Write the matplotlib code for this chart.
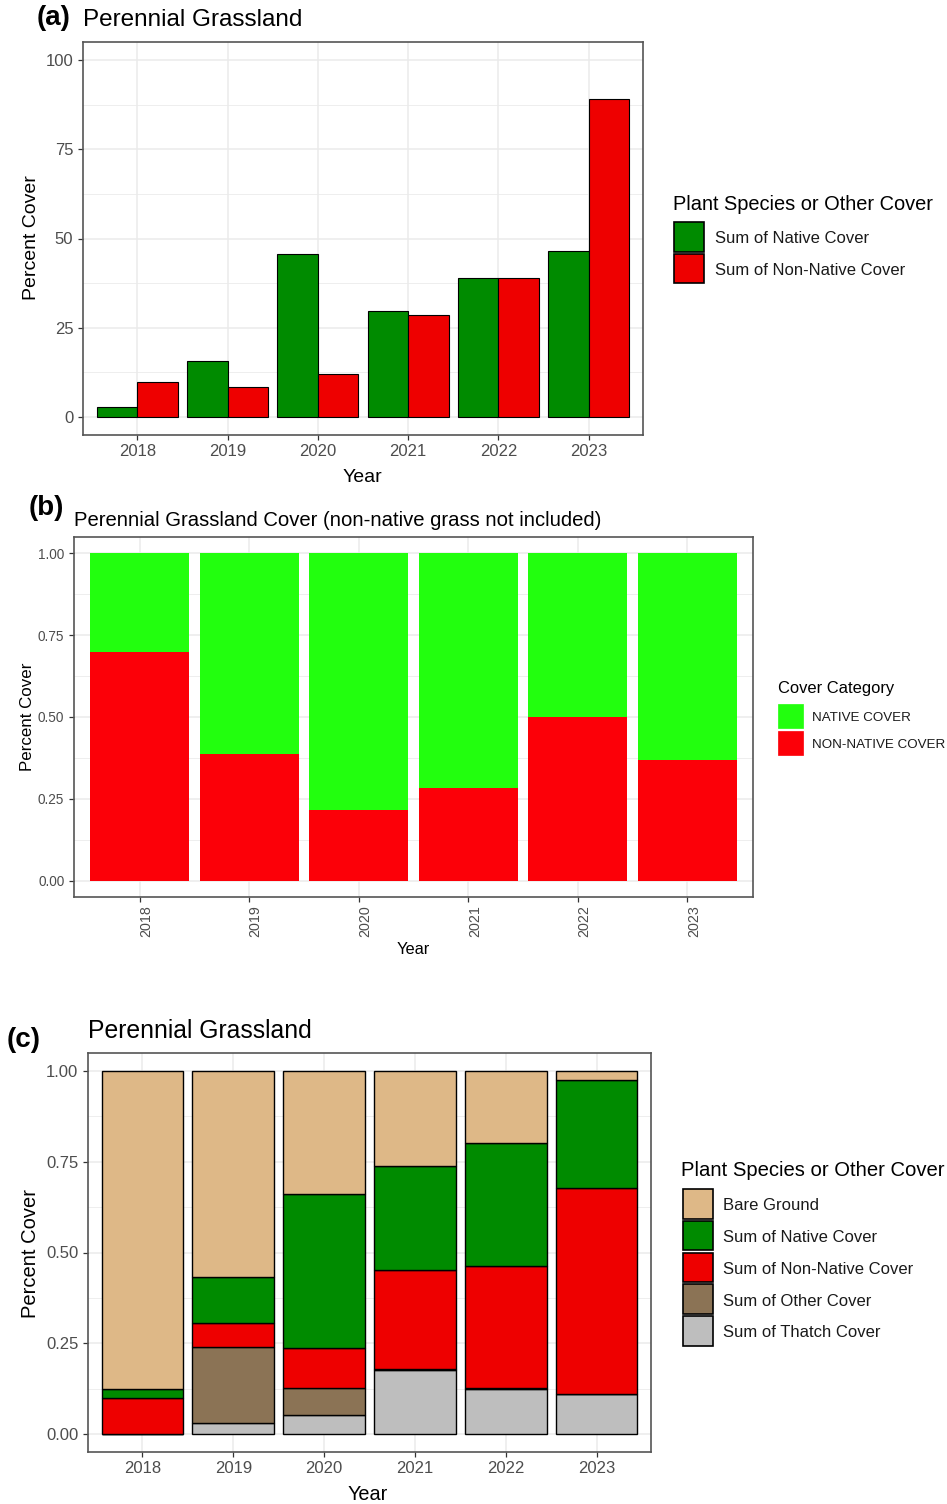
import numpy as np
import matplotlib
matplotlib.use("Agg")
import matplotlib.pyplot as plt
from matplotlib.patches import Rectangle
from matplotlib.ticker import FixedLocator
from matplotlib.transforms import ScaledTranslation

plt.rcParams['font.family'] = ['Liberation Sans', 'DejaVu Sans']

# ---------------- data ----------------
years = ['2018', '2019', '2020', '2021', '2022', '2023']

# (a) absolute cover (%)
native_cover = [2.8, 15.8, 45.8, 29.8, 39.0, 46.6]
nonnative_cover = [9.9, 8.4, 12.2, 28.6, 39.0, 89.0]

# (b) relative cover, non-native grass excluded
native_share = [0.300, 0.613, 0.783, 0.718, 0.500, 0.631]
nonnative_share = [0.700, 0.387, 0.217, 0.282, 0.500, 0.369]

# (c) relative cover of all categories
bare_ground = [0.8775, 0.568, 0.3385, 0.2615, 0.198, 0.024]
native_rel = [0.0225, 0.126, 0.4245, 0.2875, 0.340, 0.297]
nonnative_rel = [0.100, 0.066, 0.111, 0.271, 0.335, 0.569]
other_rel = [0.000, 0.210, 0.0735, 0.003, 0.003, 0.000]
thatch_rel = [0.000, 0.030, 0.0525, 0.177, 0.124, 0.110]

legend_ab_labels = ['Sum of Native Cover', 'Sum of Non-Native Cover']
legend_b_labels = ['NATIVE COVER', 'NON-NATIVE COVER']
legend_c_labels = ['Bare Ground', 'Sum of Native Cover', 'Sum of Non-Native Cover',
                   'Sum of Other Cover', 'Sum of Thatch Cover']

# ---------------- styling ----------------
GREEN = '#008B00'
RED = '#EE0000'
BARE = '#DEB887'
OTHER = '#8B7355'
THATCH = '#BEBEBE'
B_GREEN = '#22FF0E'
B_RED = '#FC0008'
GRID = '#EBEBEB'
TICKC = '#4D4D4D'
BORDER = '#555555'

W, H = 947, 1504
DPI = 100
fig = plt.figure(figsize=(W / DPI, H / DPI), dpi=DPI)
fig.patch.set_facecolor('white')


def px_axes(l, t, r, b):
    return fig.add_axes([l / W, 1 - b / H, (r - l) / W, (b - t) / H])


def ftext(x, y, s, **kw):
    return fig.text(x / W, 1 - y / H, s, **kw)


def style_axes(ax, ymin, ymax, major, minor, ylabels, ysize, xsize, xrot=0):
    n = len(years)
    ax.set_xlim(0.4, n + 0.6)
    ax.set_ylim(ymin, ymax)
    ax.set_xticks(np.arange(1, n + 1))
    ax.set_xticklabels(years, rotation=xrot)
    ax.set_yticks(major)
    ax.set_yticklabels(ylabels)
    ax.yaxis.set_minor_locator(FixedLocator(minor))
    ax.set_axisbelow(True)
    ax.grid(which='major', color=GRID, lw=1.1)
    ax.yaxis.grid(which='minor', color=GRID, lw=0.6)
    ax.tick_params(axis='both', which='major', color='#333333', length=3.6,
                   width=0.9, labelcolor=TICKC)
    ax.tick_params(axis='y', which='major', labelsize=ysize, pad=3.4)
    ax.tick_params(axis='x', which='major', labelsize=xsize, pad=2.6)
    ax.tick_params(axis='y', which='minor', length=0)
    for sp in ax.spines.values():
        sp.set_color(BORDER)
        sp.set_linewidth(1.2)


def legend_box(x, y0, step, size_w, size_h, colors, labels, edge, fs, lab_x):
    for i, (c, lab) in enumerate(zip(colors, labels)):
        top = y0 + i * step
        fig.patches.append(Rectangle((x / W, 1 - (top + size_h) / H), size_w / W, size_h / H,
                                     transform=fig.transFigure, facecolor=c,
                                     edgecolor=edge if edge else c,
                                     lw=1.2 if edge else 0.5, figure=fig))
        ftext(lab_x, top + size_h / 2 + 2, lab, fontsize=fs, va='center', ha='left',
              color='#1a1a1a')


x = np.arange(1, len(years) + 1)

# ---------------- panel (a) ----------------
ax1 = px_axes(83, 42, 643, 435)
ax1.bar(x - 0.225, native_cover, width=0.45, color=GREEN, edgecolor='black', lw=0.8)
ax1.bar(x + 0.225, nonnative_cover, width=0.45, color=RED, edgecolor='black', lw=0.8)
style_axes(ax1, -5, 105, [0, 25, 50, 75, 100], [12.5, 37.5, 62.5, 87.5],
           ['0', '25', '50', '75', '100'], 12, 12)

ftext(37, 18, '(a)', fontsize=20, fontweight='bold', va='center', ha='left')
ftext(83, 20, 'Perennial Grassland', fontsize=17.5, va='center', ha='left')
ftext(31, 238, 'Percent Cover', fontsize=14, rotation=90, va='center', ha='center')
ftext(362, 477, 'Year', fontsize=14, va='center', ha='center')

ftext(673, 205, 'Plant Species or Other Cover', fontsize=14.4, va='center', ha='left')
legend_box(674, 222, 31.5, 30, 29.5, [GREEN, RED], legend_ab_labels, 'black', 12, 715)

# ---------------- panel (b) ----------------
ax2 = px_axes(74, 537, 753, 897)
ax2.bar(x, nonnative_share, width=0.9, color=B_RED, lw=0)
ax2.bar(x, native_share, width=0.9, bottom=nonnative_share, color=B_GREEN, lw=0)
style_axes(ax2, -0.05, 1.05, [0, 0.25, 0.5, 0.75, 1.0], [0.125, 0.375, 0.625, 0.875],
           ['0.00', '0.25', '0.50', '0.75', '1.00'], 9.8, 10.3, xrot=90)
ax2.tick_params(axis='x', which='major', pad=2.2)
for lbl in ax2.get_xticklabels():
    lbl.set_transform(lbl.get_transform() + ScaledTranslation(6.5 / DPI, 0, fig.dpi_scale_trans))

ftext(29, 508, '(b)', fontsize=20, fontweight='bold', va='center', ha='left')
ftext(74, 520, 'Perennial Grassland Cover (non-native grass not included)', fontsize=14.6,
      va='center', ha='left')
ftext(27, 717, 'Percent Cover', fontsize=12.2, rotation=90, va='center', ha='center')
ftext(413, 949, 'Year', fontsize=11.8, va='center', ha='center')

ftext(778, 689, 'Cover Category', fontsize=11.9, va='center', ha='left')
legend_box(778, 704, 26.5, 25, 24, [B_GREEN, B_RED], legend_b_labels, None, 9.6, 812)

# ---------------- panel (c) ----------------
ax3 = px_axes(88, 1053, 651, 1452)
stack = [(thatch_rel, THATCH), (other_rel, OTHER), (nonnative_rel, RED),
         (native_rel, GREEN), (bare_ground, BARE)]
bottom = np.zeros(len(years))
for vals, col in stack:
    ax3.bar(x, vals, width=0.9, bottom=bottom, color=col, edgecolor='black', lw=1.0)
    bottom = bottom + np.array(vals)
style_axes(ax3, -0.05, 1.05, [0, 0.25, 0.5, 0.75, 1.0], [0.125, 0.375, 0.625, 0.875],
           ['0.00', '0.25', '0.50', '0.75', '1.00'], 12, 12)

ftext(7, 1040, '(c)', fontsize=20, fontweight='bold', va='center', ha='left')
ftext(88, 1031, 'Perennial Grassland', fontsize=17.8, va='center', ha='left')
ftext(30, 1253, 'Percent Cover', fontsize=14.5, rotation=90, va='center', ha='center')
ftext(368, 1494, 'Year', fontsize=14.3, va='center', ha='center')

ftext(681, 1171, 'Plant Species or Other Cover', fontsize=14.6, va='center', ha='left')
legend_box(683, 1189, 31.8, 30, 29.5, [BARE, GREEN, RED, OTHER, THATCH], legend_c_labels,
           'black', 12, 723)

fig.savefig('out.png', dpi=DPI, facecolor='white')
